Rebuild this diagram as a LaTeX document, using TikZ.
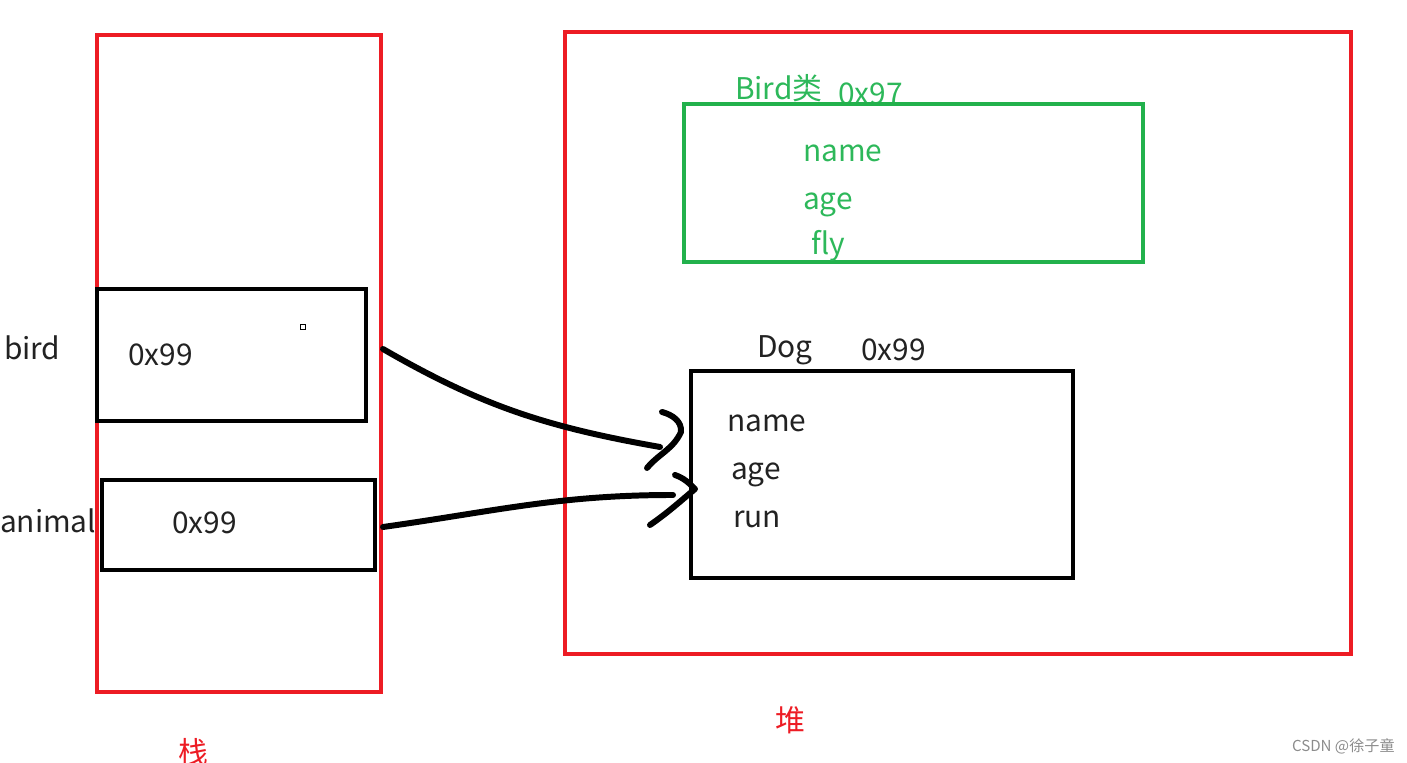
\documentclass[tikz,border=0pt]{standalone}
\usepackage{fontspec}
\setmainfont{Noto Sans CJK SC}
\usetikzlibrary{positioning}
\definecolor{paintred}{HTML}{ED1C24}
\definecolor{paintgreen}{HTML}{22B14C}
\definecolor{textgreen}{HTML}{2DB85A}
\definecolor{inkgray}{HTML}{222222}
\definecolor{markgray}{HTML}{8C8C8C}

\begin{document}
\begin{tikzpicture}[font=\fontsize{8.5}{10}\selectfont, inner sep=0pt, outer sep=0pt,
  region/.style={draw=paintred, line width=1.1pt, anchor=south west},
  slot/.style={draw=black, line width=1.4pt, anchor=south west},
  klass/.style={draw=paintgreen, line width=1.1pt, anchor=south west},
  lbl/.style={anchor=base west, text=inkgray},
  glbl/.style={anchor=base west, text=textgreen},
  rlbl/.style={text=paintred},
  ptr/.style={line width=1.7pt, line cap=round, line join=round}]
  \useasboundingbox (0,0) rectangle (14.07,7.63);

  % stack and heap
  \node[region, minimum width=2.84cm, minimum height=6.57cm] (stack) at (0.97,0.71) {};
  \node[region, minimum width=7.86cm, minimum height=6.22cm] (heap) at (5.65,1.09) {};
  \node[rlbl] (stacklbl) at (1.93,0.11) {栈};
  \node[rlbl] (heaplbl) at (7.90,0.43) {堆};

  % stack slots
  \node[slot, minimum width=2.69cm, minimum height=1.32cm] (birdslot) at (0.97,3.42) {};
  \node[slot, minimum width=2.73cm, minimum height=0.90cm] (animalslot) at (1.02,1.93) {};
  \node[lbl] (birdname) at (0.04,4.03) {bird};
  \node[lbl] (birdaddr) at (1.28,3.97) {0x99};
  \node[draw, line width=0.5pt, minimum size=0.05cm] (dot) at (3.03,4.36) {};
  \node[lbl] (animalname) at (0.00,2.30) {animal};
  \node[lbl] (animaladdr) at (1.72,2.29) {0x99};

  % Bird class object
  \node[glbl] (birdcls) at (7.35,6.63) {Bird类};
  \node[glbl] (birdcaddr) at (8.38,6.58) {0x97};
  \node[klass, minimum width=4.59cm, minimum height=1.58cm] (birdobj) at (6.84,5.01) {};
  \node[glbl] (bname) at (8.03,6.01) {name};
  \node[glbl] (bage) at (8.03,5.53) {age};
  \node[glbl] (bfly) at (8.11,5.08) {fly};

  % Dog object
  \node[slot, minimum width=3.82cm, minimum height=2.07cm] (dogobj) at (6.91,1.85) {};
  \node[lbl] (dogcls) at (7.57,4.05) {Dog};
  \node[lbl] (dogaddr) at (8.61,4.02) {0x99};
  \node[lbl] (dname) at (7.27,3.31) {name};
  \node[lbl] (dage) at (7.31,2.83) {age};
  \node[lbl] (drun) at (7.33,2.35) {run};

  % pointers
  \coordinate (birdout) at (3.83,4.14);
  \coordinate (endA) at (6.60,3.16);
  \coordinate (tipA) at (6.81,3.31);
  \coordinate (upA) at (6.62,3.51);
  \coordinate (loA) at (6.47,2.95);
  \coordinate (animalout) at (3.83,2.36);
  \coordinate (endB) at (6.73,2.68);
  \coordinate (tipB) at (6.95,2.74);
  \coordinate (upB) at (6.75,2.88);
  \coordinate (loB) at (6.50,2.38);
  \draw[ptr] (birdout) to[out=-30, in=170] (endA);
  \draw[ptr] (upA) to[out=-15, in=85] (tipA) to[out=-115, in=50] (loA);
  \draw[ptr] (animalout) to[out=8, in=180] (endB);
  \draw[ptr] (upB) to[out=-20, in=135] (tipB) to[out=-140, in=35] (loB);

  \node[anchor=base west, text=markgray, font=\fontsize{4.3}{5}\selectfont] (mark) at (12.92,0.11) {CSDN @徐子童};
\end{tikzpicture}
\end{document}
